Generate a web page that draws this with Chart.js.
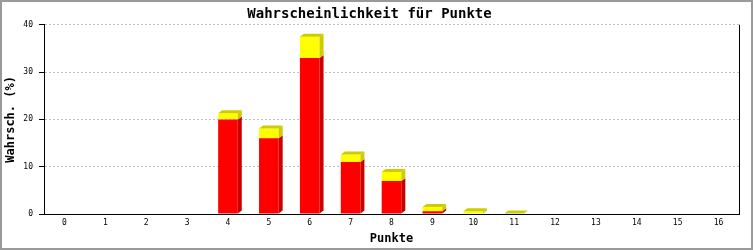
<!DOCTYPE html>
<html>
<head>
<meta charset="utf-8">
<script src="https://cdn.jsdelivr.net/npm/chart.js@4/dist/chart.umd.min.js"></script>
<style>
  body { margin: 0; background: #fff; }
  canvas { display: block; }
</style>
</head>
<body>
<canvas id="punkteChart" width="753" height="250"></canvas>
<script>
// Daten
const punkte = ['0','1','2','3','4','5','6','7','8','9','10','11','12','13','14','15','16'];
const wertRot = [0, 0, 0, 0, 20, 16, 33, 11, 7, 0.6, 0, 0, 0, 0, 0, 0, 0];      // unterer Teil
const wertGelb = [0, 0, 0, 0, 1.3, 2.1, 4.5, 1.6, 1.9, 0.9, 0.6, 0.1, 0, 0, 0, 0, 0]; // oberer Teil
const yTicks = [0, 10, 20, 30, 40];

const monoFont = 'DejaVu Sans Mono';

// Farben: Vorderseite, Seite/Oberseite
const farben = [
    { front: '#ff0000', dunkel: '#cc0000' },
    { front: '#ffff00', dunkel: '#cccc00' }
];

// Hintergrund, Rahmen und rechte Linie
const rahmenPlugin = {
    id: 'rahmen',
    beforeDraw(chart) {
        const c = chart.ctx;
        c.save();
        c.fillStyle = '#ffffff';
        c.fillRect(0, 0, chart.width, chart.height);
        c.restore();
    },
    afterDraw(chart) {
        const c = chart.ctx;
        const a = chart.chartArea;
        c.save();
        c.strokeStyle = '#000';
        c.lineWidth = 1;
        c.beginPath();
        c.moveTo(Math.round(a.right) + 0.5, a.top);
        c.lineTo(Math.round(a.right) + 0.5, a.bottom);
        c.stroke();
        c.strokeStyle = '#9a9a9a';
        c.lineWidth = 2;
        c.strokeRect(1, 1, chart.width - 2, chart.height - 2);
        c.restore();
    }
};

// 3D-Effekt der Balken (Seite und Deckel)
const balken3d = {
    id: 'balken3d',
    afterDatasetsDraw(chart) {
        const c = chart.ctx;
        const dx = 4, dy = 3;
        c.save();
        punkte.forEach((p, i) => {
            let oben = -1;
            chart.data.datasets.forEach((ds, d) => {
                if (ds.data[i] <= 0) return;
                oben = d;
                const bar = chart.getDatasetMeta(d).data[i];
                const rechts = bar.x + bar.width / 2;
                c.fillStyle = farben[d].dunkel;
                c.beginPath();
                c.moveTo(rechts, bar.y);
                c.lineTo(rechts + dx, bar.y - dy);
                c.lineTo(rechts + dx, bar.base - dy);
                c.lineTo(rechts, bar.base);
                c.closePath();
                c.fill();
            });
            if (oben < 0) return;
            const bar = chart.getDatasetMeta(oben).data[i];
            const links = bar.x - bar.width / 2;
            const rechts = bar.x + bar.width / 2;
            c.fillStyle = farben[oben].dunkel;
            c.beginPath();
            c.moveTo(links, bar.y);
            c.lineTo(links + dx, bar.y - dy);
            c.lineTo(rechts + dx, bar.y - dy);
            c.lineTo(rechts, bar.y);
            c.closePath();
            c.fill();
        });
        c.restore();
    }
};

const ctx = document.getElementById('punkteChart').getContext('2d');
const punkteChart = new Chart(ctx, {
    type: 'bar',
    data: {
        labels: punkte,
        datasets: [
            { data: wertRot, backgroundColor: farben[0].front, borderWidth: 0 },
            { data: wertGelb, backgroundColor: farben[1].front, borderWidth: 0 }
        ]
    },
    options: {
        responsive: false,
        animation: false,
        layout: { padding: { left: 0, right: 14, top: 0, bottom: 0 } },
        datasets: {
            bar: { categoryPercentage: 1, barPercentage: 0.48 }
        },
        plugins: {
            legend: { display: false },
            tooltip: { enabled: false },
            title: {
                display: true,
                text: 'Wahrscheinlichkeit für Punkte',
                color: '#000',
                font: { family: monoFont, size: 14, weight: 'bold' },
                padding: { top: 6, bottom: 2 }
            }
        },
        scales: {
            x: {
                stacked: true,
                grid: { display: false, drawTicks: false },
                border: { display: true, color: '#000', width: 1 },
                ticks: { color: '#000', font: { family: monoFont, size: 8 }, padding: 4, maxRotation: 0 },
                title: {
                    display: true,
                    text: 'Punkte',
                    color: '#000',
                    font: { family: monoFont, size: 12, weight: 'bold' },
                    padding: { top: 0, bottom: 4 }
                },
                afterFit(scale) { scale.height = 36; }
            },
            y: {
                stacked: true,
                min: 0,
                max: 40,
                afterBuildTicks(scale) { scale.ticks = yTicks.map(v => ({ value: v })); },
                grid: {
                    color: c => c.tick && c.tick.value === 0 ? 'rgba(0,0,0,0)' : '#c0c0c0',
                    tickColor: '#000',
                    tickLength: 5,
                    tickBorderDash: []
                },
                border: { display: true, color: '#000', width: 1, dash: [2, 2] },
                ticks: { color: '#000', font: { family: monoFont, size: 8 }, padding: 6 },
                title: {
                    display: true,
                    text: 'Wahrsch. (%)',
                    color: '#000',
                    font: { family: monoFont, size: 12, weight: 'bold' },
                    padding: { top: 4, bottom: 0 }
                },
                afterFit(scale) { scale.width = 44; }
            }
        }
    },
    plugins: [rahmenPlugin, balken3d]
});
</script>
</body>
</html>
